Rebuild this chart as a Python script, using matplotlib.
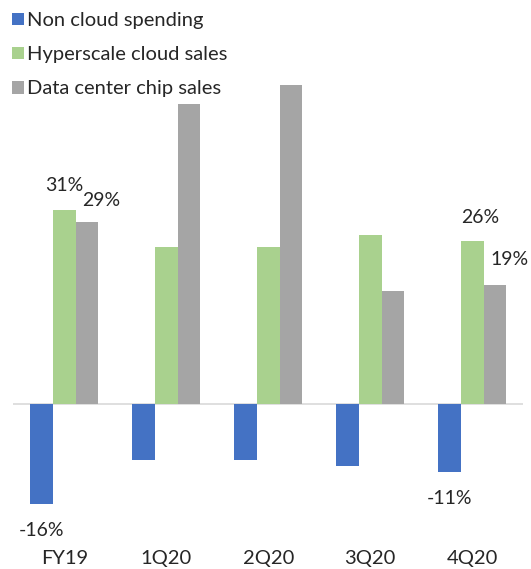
import matplotlib
matplotlib.use("Agg")
import matplotlib.pyplot as plt
from matplotlib.patches import Patch
import numpy as np

categories = ["FY19", "1Q20", "2Q20", "3Q20", "4Q20"]
series_names = ["Non cloud spending", "Hyperscale cloud sales", "Data center chip sales"]
non_cloud = [-16, -9, -9, -10, -11]
hyperscale = [31, 25, 25, 27, 26]
chip_sales = [29, 48, 51, 18, 19]
colors = ["#4472C4", "#A9D18E", "#A5A5A5"]

# labels shown on the chart: (series index, category index, label offset in px)
shown_labels = [
    (0, 0, (0, -27)), (1, 0, (0, 24)), (2, 0, (14, 22)),
    (0, 4, (0, -26)), (1, 4, (8, 24)), (2, 4, (15, 25)),
]

plt.rcParams['font.family'] = ['Lato', 'DejaVu Sans']

fig = plt.figure(figsize=(5.31, 5.69), dpi=100)
ax = fig.add_axes([13.3 / 531, 1 - 528.7 / 569, 510 / 531, 500 / 569])

x = np.arange(len(categories))
w = 0.2225
data = [non_cloud, hyperscale, chip_sales]
for i, (vals, c) in enumerate(zip(data, colors)):
    ax.bar(x + (i - 1) * w, vals, width=w, color=c, zorder=2)

ax.axhline(0, color="#D9D9D9", lw=1.2, zorder=1)

for si, ci, (dx, dy) in shown_labels:
    v = data[si][ci]
    ax.annotate(f"{v}%", xy=(x[ci] + (si - 1) * w, v), xytext=(dx, dy),
                textcoords="offset pixels", ha="center", va="center",
                fontsize=14, color="#262626")

ax.set_xlim(-0.5, len(categories) - 0.5)
ax.set_ylim(-20, 60)
ax.set_xticks(x)
ax.set_xticklabels(categories, fontsize=14.5, color="#262626")
ax.tick_params(axis="x", length=0, pad=15.5)
ax.set_yticks([])
for s in ax.spines.values():
    s.set_visible(False)

handles = [Patch(facecolor=c, edgecolor="none") for c in colors]
fig.legend(handles, series_names, loc="upper left", bbox_to_anchor=(0.0, 1.0),
           frameon=False, fontsize=14.5, handlelength=0.6, handleheight=0.6,
           handletextpad=0.15, labelspacing=0.85, borderaxespad=0.2,
           labelcolor="#262626")

fig.savefig("out.png", dpi=100)
